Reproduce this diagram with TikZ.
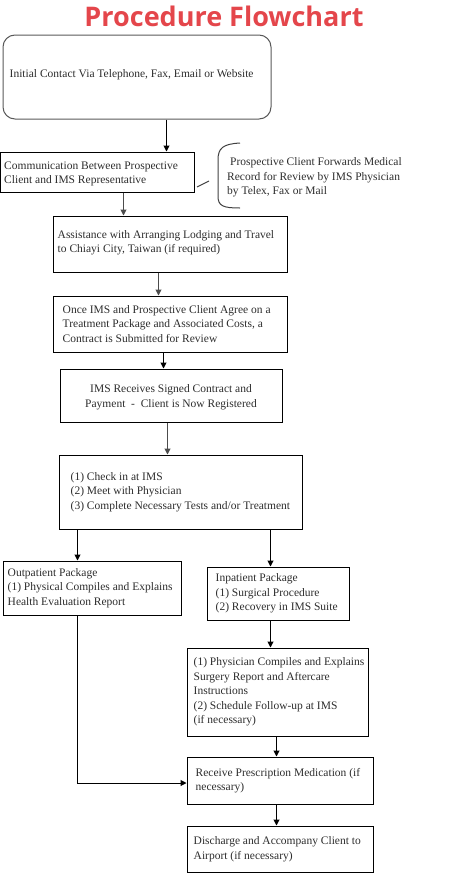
\documentclass[tikz,border=0pt]{standalone}
\usepackage{fontspec}
\setmainfont{Liberation Serif}
\newfontfamily\titlefont{Open Sans}
\usetikzlibrary{arrows.meta,calc}
\definecolor{titlered}{RGB}{228,70,75}
\definecolor{txtgray}{RGB}{45,45,45}
\begin{document}
\begin{tikzpicture}[x=1pt,y=-1pt,
  box/.style={draw=black,line width=1pt,rectangle,inner sep=0pt},
  txt/.style={inner sep=0pt,align=left,text=txtgray,font=\fontsize{11.5}{14.5}\selectfont},
  arr/.style={draw=black,line width=1pt,-{Triangle[length=6pt,width=6pt]}},
  link/.style={draw=black!75,line width=1pt}]
\useasboundingbox (0,0) rectangle (460,881);
% title
\node[inner sep=0pt,anchor=base,text=titlered,font=\titlefont\bfseries\fontsize{27}{30}\selectfont] (title) at (224,26) {Procedure Flowchart};
% boxes
\node[box,draw=black!65,rounded corners=12pt,minimum width=268pt,minimum height=84pt] (b1) at (137,77) {};
\node[box,minimum width=193.5pt,minimum height=40pt] (b2) at (97.25,172) {};
\node[box,minimum width=234pt,minimum height=56pt] (b3) at (170,244) {};
\node[box,minimum width=234pt,minimum height=56pt] (b4) at (170,324) {};
\node[box,minimum width=222pt,minimum height=53pt] (b5) at (171,395.5) {};
\node[box,minimum width=243pt,minimum height=74pt] (b6) at (180.5,492) {};
\node[box,minimum width=178pt,minimum height=54pt] (b7) at (92,588) {};
\node[box,minimum width=142pt,minimum height=53pt] (b8) at (278,593.5) {};
\node[box,minimum width=181pt,minimum height=88pt] (b9) at (277.5,692) {};
\node[box,minimum width=186pt,minimum height=47pt] (b10) at (280,780.5) {};
\node[box,minimum width=186pt,minimum height=46pt] (b11) at (280,849) {};
% texts
\node[txt,anchor=west] (t1) at ([xshift=7pt,yshift=2pt]b1.west) {Initial Contact Via Telephone, Fax, Email or Website};
\node[txt,anchor=west] (t2) at ([xshift=4pt,yshift=-2pt]b2.west) {Communication Between Prospective\\Client and IMS Representative};
\node[txt,anchor=west] (t3) at ([xshift=5pt,yshift=1.5pt]b3.west) {Assistance with Arranging Lodging and Travel\\to Chiayi City, Taiwan (if required)};
\node[txt,anchor=west] (t4) at ([xshift=10pt]b4.west) {Once IMS and Prospective Client Agree on a\\Treatment Package and Associated Costs, a\\Contract is Submitted for Review};
\node[txt,align=center] (t5) at ([yshift=-1.5pt]b5.center) {IMS Receives Signed Contract and\\Payment\ \ -\ \ Client is Now Registered};
\node[txt,anchor=west] (t6) at ([xshift=12pt]b6.west) {(1) Check in at IMS\\(2) Meet with Physician\\(3) Complete Necessary Tests and/or Treatment};
\node[txt,anchor=west] (t7) at ([xshift=5pt]b7.west) {Outpatient Package\\(1) Physical Compiles and Explains\\Health Evaluation Report};
\node[txt,anchor=west] (t8) at ([xshift=9pt]b8.west) {Inpatient Package\\(1) Surgical Procedure\\(2) Recovery in IMS Suite};
\node[txt,anchor=west] (t9) at ([xshift=7pt]b9.west) {(1) Physician Compiles and Explains\\Surgery Report and Aftercare\\Instructions\\(2) Schedule Follow-up at IMS\\(if necessary)};
\node[txt,anchor=west] (t10) at ([xshift=9pt]b10.west) {Receive Prescription Medication (if\\necessary)};
\node[txt,anchor=west] (t11) at ([xshift=7pt]b11.west) {Discharge and Accompany Client to\\Airport (if necessary)};
% bracket note
\node[txt,anchor=west] (note) at (227,177.5) {\hspace{3pt}Prospective Client Forwards Medical\\Record for Review by IMS Physician\\by Telex, Fax or Mail};
\draw[link] (240,143) .. controls (223,144) and (218,148) .. (218,160) -- (218,196) .. controls (218,206) and (223,208) .. (240,208);
\coordinate (n1) at (197,187);
\coordinate (n2) at (209,181);
\draw[link] (n1) -- (n2);
% arrows
\draw[arr] ([xshift=164pt]b1.south west) -- ([xshift=166.5pt]b2.north west);
\draw[arr,draw=black!70] ([xshift=123.5pt]b2.south west) -- ([xshift=71pt]b3.north west);
\draw[arr,draw=black!70] ([xshift=106pt]b3.south west) -- ([xshift=106pt]b4.north west);
\draw[arr] ([xshift=111pt]b4.south west) -- ([xshift=104pt]b5.north west);
\draw[arr,draw=black!70] ([xshift=108pt]b5.south west) -- ([xshift=109pt]b6.north west);
\draw[arr] ([xshift=19pt]b6.south west) -- ([xshift=75pt]b7.north west);
\draw[arr] ([xshift=212pt]b6.south west) -- ([xshift=64pt]b8.north west);
\draw[arr] ([xshift=64pt]b8.south west) -- ([xshift=84pt]b9.north west);
\draw[arr] ([xshift=90pt]b9.south west) -- ([xshift=90pt]b10.north west);
\draw[arr] ([xshift=90pt]b10.south west) -- ([xshift=90pt]b11.north west);
\draw[arr] ([xshift=75pt]b7.south west) |- ([yshift=-2.5pt]b10.west);
\end{tikzpicture}
\end{document}
